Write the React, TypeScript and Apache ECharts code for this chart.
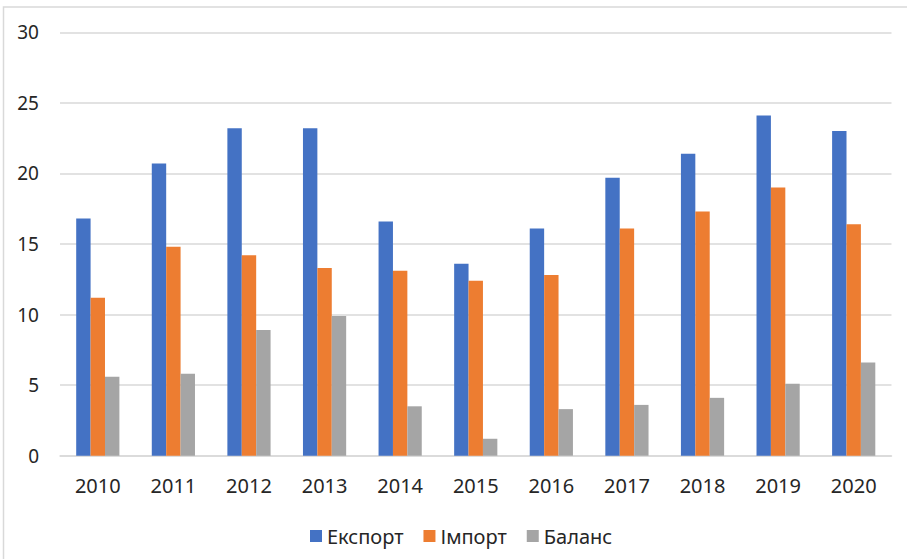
import React, { useEffect, useRef } from "react";
import * as echarts from "echarts";

const years = ["2010", "2011", "2012", "2013", "2014", "2015", "2016", "2017", "2018", "2019", "2020"];
const exportValues = [16.8, 20.7, 23.2, 23.2, 16.6, 13.6, 16.1, 19.7, 21.4, 24.1, 23.0];
const importValues = [11.2, 14.8, 14.2, 13.3, 13.1, 12.4, 12.8, 16.1, 17.3, 19.0, 16.4];
const balanceValues = [5.6, 5.8, 8.9, 9.9, 3.5, 1.2, 3.3, 3.6, 4.1, 5.1, 6.6];

const seriesNames = ["Експорт", "Імпорт", "Баланс"];
const colors = ["#4472C4", "#ED7D31", "#A5A5A5"];

export default function App() {
  const ref = useRef<HTMLDivElement>(null);
  useEffect(() => {
    if (!ref.current) return;
    const chart = echarts.init(ref.current, null, { renderer: "svg" });
    const font = "'Noto Sans', sans-serif";
    const textColor = "#262626";
    const data = [exportValues, importValues, balanceValues];
    chart.setOption({
      animation: false,
      backgroundColor: "#ffffff",
      color: colors,
      graphic: [
        {
          type: "rect",
          shape: { x: 3.5, y: 7, width: 920, height: 570 },
          style: { fill: "none", stroke: "#d9d9d9", lineWidth: 1.5 },
          silent: true,
        },
      ],
      grid: { left: 60, right: 15.5, top: 32.3, bottom: 103.3, containLabel: false },
      legend: {
        data: seriesNames,
        left: 305,
        top: 521,
        itemWidth: 12,
        itemHeight: 12,
        itemGap: 20,
        icon: "rect",
        textStyle: { fontFamily: font, fontSize: 20, color: textColor },
      },
      xAxis: {
        type: "category",
        data: years,
        axisLine: { show: true, lineStyle: { color: "#d9d9d9", width: 1.5 } },
        axisTick: { show: false },
        axisLabel: { fontFamily: font, fontSize: 20, color: textColor, margin: 20 },
      },
      yAxis: {
        type: "value",
        min: 0,
        max: 30,
        interval: 5,
        axisLine: { show: false },
        axisTick: { show: false },
        splitLine: { lineStyle: { color: "#d9d9d9", width: 1.5 } },
        axisLabel: { fontFamily: font, fontSize: 19, color: textColor, margin: 21 },
      },
      series: seriesNames.map((name, i) => ({
        name,
        type: "bar",
        data: data[i],
        barWidth: 14.4,
        barGap: "0%",
        itemStyle: { color: colors[i] },
      })),
    });
    return () => chart.dispose();
  }, []);
  return (
    <div
      ref={ref}
      style={{ position: "absolute", left: 0, top: 0, width: 907, height: 559 }}
    />
  );
}
